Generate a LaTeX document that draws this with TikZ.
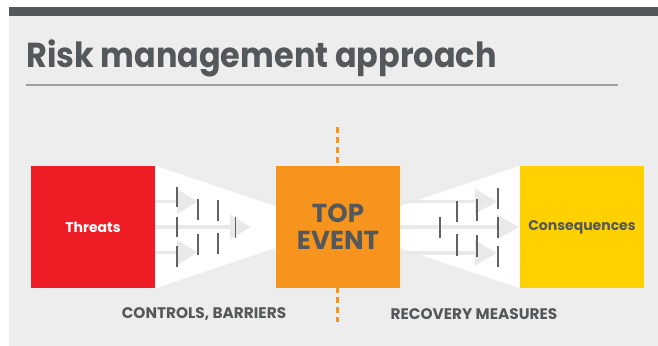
\documentclass[tikz,border=0pt]{standalone}
\usepackage{fontspec}
\setmainfont{Poppins}
\newfontfamily\titlefont[FakeStretch=0.92]{Poppins}
\definecolor{bgc}{HTML}{EDEDED}
\definecolor{darkc}{HTML}{54585A}
\definecolor{redc}{HTML}{EE1C25}
\definecolor{orangec}{HTML}{F7941D}
\definecolor{yellowc}{HTML}{FFD100}
\definecolor{rulec}{HTML}{9FA1A1}
\definecolor{arrc}{HTML}{E9E9E9}
\definecolor{barc}{HTML}{606366}
\tikzset{
  box/.style={minimum width=93pt, minimum height=91.5pt, inner sep=0pt, draw=none},
  arrline/.style={draw=arrc, line width=2.6pt},
  arrhead/.style={fill=arrc},
  barline/.style={draw=barc, line width=1.3pt},
  lbl/.style={text=darkc, font=\bfseries\fontsize{11.5}{13}\selectfont, inner sep=0pt}
}
\begin{document}
\begin{tikzpicture}[x=0.75pt,y=-0.75pt]
\useasboundingbox (0,0) rectangle (658,346);
\fill[white] (0,0) rectangle (658,346);
\fill[bgc] (9,16) rectangle (658,346);
\fill[darkc] (9,7) rectangle (658,16);
\node[anchor=base west, inner sep=0pt, text=darkc, font=\titlefont\bfseries\fontsize{26}{30}\selectfont] (title) at (26,68) {Risk management approach};
\draw[rulec, line width=1.5pt] (26,85) -- (618,85);
% dashed line
\coordinate (dtop) at (337.5,127);
\coordinate (dbot) at (337.5,322);
\draw[orangec, line width=2pt, dash pattern=on 4.5pt off 3pt] (dtop) -- (dbot);
% boxes (defined first for triangles)
\path (93,227) node[box] (threats) {};
\path (338,227) node[box] (top) {};
\path (582,227) node[box] (cons) {};
% white funnels
\fill[white] (threats.north east) -- (threats.south east) -- (top.center) -- cycle;
\fill[white] (cons.north west) -- (cons.south west) -- (top.center) -- cycle;
% left arrows
\foreach \y/\hx in {201.5/177, 227/230, 252.5/177}{
  \draw[arrline] (155,\y) -- (\hx,\y);
  \fill[arrhead] (\hx,\y-12.5) -- (\hx,\y+12.5) -- (\hx+20.5,\y) -- cycle;
}
% right arrows
\foreach \y/\hx in {201.5/475, 227/497, 253/475}{
  \draw[arrline] (400,\y) -- (\hx,\y);
  \fill[arrhead] (\hx,\y-12.5) -- (\hx,\y+12.5) -- (\hx+22,\y) -- cycle;
}
% left barriers
\foreach \x/\a/\b in {177/187/207.5, 177/217/237.5, 177/246/266.5, 198/199/220, 198/234/255, 218/200/221, 218/233/254, 235.5/217/238}{
  \draw[barline] (\x,\a) -- (\x,\b);
}
% right barriers
\foreach \x/\a/\b in {440/217/238, 457/201/222, 457/234/256, 477/199/221, 477/235/257, 498/188/209, 498/217/238, 498/246/267}{
  \draw[barline] (\x,\a) -- (\x,\b);
}
% boxes drawn
\node[box, fill=redc, text=white, font=\bfseries\fontsize{10.5}{12}\selectfont] at (threats) {Threats};
\node[box, fill=orangec, text=darkc, font=\bfseries\fontsize{19.5}{20.5}\selectfont, align=center] at (top) {TOP\\EVENT};
\node[box, fill=yellowc, text=darkc, font=\bfseries\fontsize{10.5}{12}\selectfont] at (cons) {Consequences};
% labels
\node[lbl] (lctl) at (204,314) {CONTROLS, BARRIERS};
\node[lbl] (lrec) at (474,314) {RECOVERY MEASURES};
\end{tikzpicture}
\end{document}
